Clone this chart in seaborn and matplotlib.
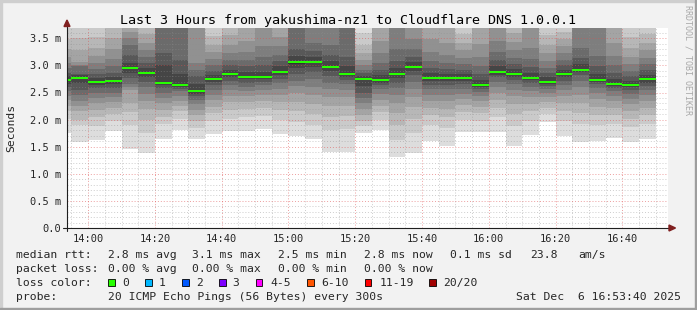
import matplotlib
matplotlib.use("Agg")
import matplotlib.pyplot as plt
from matplotlib.lines import Line2D
from matplotlib.patches import Rectangle, Polygon
import numpy as np
import pandas as pd
import seaborn as sns

# ---------------- data ----------------
bar_start = ["13:50", "13:55", "14:00", "14:05", "14:10", "14:15", "14:20", "14:25", "14:30",
             "14:35", "14:40", "14:45", "14:50", "14:55", "15:00", "15:05", "15:10", "15:15",
             "15:20", "15:25", "15:30", "15:35", "15:40", "15:45", "15:50", "15:55", "16:00",
             "16:05", "16:10", "16:15", "16:20", "16:25", "16:30", "16:35", "16:40", "16:45"]

median_rtt = [2.73, 2.76, 2.70, 2.71, 2.95, 2.86, 2.68, 2.64, 2.53,
              2.75, 2.84, 2.79, 2.79, 2.88, 3.06, 3.06, 2.97, 2.84,
              2.75, 2.73, 2.84, 2.97, 2.77, 2.77, 2.77, 2.64, 2.88,
              2.84, 2.77, 2.70, 2.84, 2.92, 2.73, 2.66, 2.64, 2.75]

# 20 sorted ping round-trip times (ms) per 5-minute step
ping_rtt = [
    [1.75, 2.02, 2.16, 2.26, 2.36, 2.44, 2.52, 2.60, 2.66, 2.71, 2.75, 2.80, 2.86, 2.95, 3.05, 3.16, 3.30, 3.48, 3.85, 4.30],
    [1.59, 1.90, 2.00, 2.15, 2.25, 2.35, 2.45, 2.55, 2.68, 2.74, 2.78, 2.82, 2.85, 2.98, 3.00, 3.07, 3.28, 3.50, 3.90, 4.40],
    [1.62, 1.88, 2.04, 2.18, 2.30, 2.40, 2.50, 2.58, 2.64, 2.68, 2.72, 2.76, 2.84, 2.94, 3.04, 3.18, 3.32, 3.52, 3.80, 4.20],
    [1.79, 1.98, 2.10, 2.22, 2.32, 2.42, 2.50, 2.58, 2.65, 2.69, 2.73, 2.78, 2.86, 2.98, 3.12, 3.30, 3.50, 3.80, 4.10, 4.60],
    [1.46, 1.90, 2.14, 2.30, 2.55, 2.60, 2.66, 2.76, 2.86, 2.93, 2.97, 3.05, 3.20, 3.37, 3.50, 3.62, 3.85, 4.10, 4.50, 5.00],
    [1.39, 1.75, 2.00, 2.20, 2.35, 2.48, 2.60, 2.70, 2.78, 2.84, 2.88, 2.95, 3.05, 3.15, 3.28, 3.42, 3.58, 3.80, 4.20, 4.70],
    [1.65, 1.92, 2.05, 2.18, 2.30, 2.40, 2.50, 2.58, 2.63, 2.67, 2.70, 3.00, 3.22, 3.80, 3.95, 4.10, 4.30, 4.60, 5.00, 5.50],
    [1.80, 2.02, 2.15, 2.26, 2.35, 2.44, 2.52, 2.57, 2.60, 2.63, 2.66, 2.85, 3.10, 3.80, 3.90, 4.05, 4.25, 4.50, 4.90, 5.40],
    [1.65, 1.85, 1.98, 2.08, 2.18, 2.28, 2.36, 2.43, 2.48, 2.52, 2.55, 2.66, 2.80, 2.92, 3.05, 3.80, 4.00, 4.30, 4.70, 5.20],
    [1.73, 1.98, 2.12, 2.24, 2.36, 2.46, 2.55, 2.63, 2.69, 2.73, 2.77, 2.82, 2.90, 3.00, 3.12, 3.25, 3.38, 3.55, 3.85, 4.30],
    [1.79, 2.02, 2.18, 2.32, 2.44, 2.54, 2.63, 2.71, 2.78, 2.82, 2.86, 2.92, 3.00, 3.10, 3.22, 3.38, 3.56, 3.85, 4.20, 4.70],
    [1.79, 2.05, 2.20, 2.33, 2.44, 2.53, 2.61, 2.68, 2.74, 2.77, 2.81, 2.88, 2.98, 3.10, 3.25, 3.45, 3.80, 4.10, 4.50, 5.00],
    [1.82, 2.06, 2.22, 2.35, 2.46, 2.55, 2.63, 2.70, 2.75, 2.78, 2.80, 2.88, 3.00, 3.15, 3.35, 3.80, 4.00, 4.30, 4.70, 5.20],
    [1.73, 2.00, 2.18, 2.33, 2.46, 2.57, 2.67, 2.75, 2.82, 2.86, 2.90, 2.98, 3.08, 3.20, 3.35, 3.52, 3.85, 4.15, 4.50, 5.00],
    [1.70, 1.95, 2.15, 2.33, 2.50, 2.62, 2.72, 2.85, 2.96, 3.03, 3.09, 3.18, 3.30, 3.80, 3.95, 4.15, 4.40, 4.70, 5.10, 5.60],
    [1.65, 1.90, 2.10, 2.28, 2.45, 2.60, 2.74, 2.87, 2.97, 3.04, 3.08, 3.16, 3.26, 3.42, 3.80, 4.00, 4.25, 4.55, 4.95, 5.40],
    [1.40, 1.80, 2.05, 2.25, 2.42, 2.56, 2.68, 2.80, 2.90, 2.95, 2.99, 3.08, 3.20, 3.38, 3.80, 4.00, 4.25, 4.55, 4.95, 5.40],
    [1.40, 1.82, 2.06, 2.26, 2.42, 2.55, 2.65, 2.73, 2.79, 2.82, 2.86, 2.98, 3.15, 3.80, 3.95, 4.15, 4.40, 4.70, 5.10, 5.60],
    [1.76, 1.88, 1.98, 2.08, 2.20, 2.30, 2.40, 2.50, 2.62, 2.73, 2.77, 2.81, 2.86, 2.92, 3.00, 3.10, 3.22, 3.38, 3.60, 3.90],
    [1.80, 2.00, 2.14, 2.26, 2.37, 2.47, 2.56, 2.63, 2.68, 2.71, 2.75, 2.82, 2.92, 3.05, 3.22, 3.45, 3.80, 4.10, 4.50, 5.00],
    [1.31, 1.62, 1.90, 2.12, 2.30, 2.45, 2.58, 2.68, 2.76, 2.82, 2.86, 2.95, 3.08, 3.30, 3.80, 4.00, 4.25, 4.55, 4.95, 5.40],
    [1.39, 1.75, 2.02, 2.24, 2.42, 2.57, 2.70, 2.82, 2.90, 2.95, 2.99, 3.06, 3.16, 3.30, 3.48, 3.80, 4.00, 4.30, 4.70, 5.20],
    [1.60, 1.90, 2.08, 2.22, 2.35, 2.46, 2.56, 2.64, 2.71, 2.75, 2.79, 2.86, 2.96, 3.08, 3.24, 3.48, 3.80, 4.10, 4.50, 5.00],
    [1.52, 1.85, 2.04, 2.20, 2.34, 2.46, 2.56, 2.64, 2.71, 2.75, 2.79, 2.85, 2.94, 3.05, 3.20, 3.42, 3.80, 4.10, 4.50, 5.00],
    [1.77, 2.00, 2.14, 2.27, 2.38, 2.48, 2.57, 2.65, 2.71, 2.75, 2.79, 2.84, 2.92, 3.02, 3.14, 3.28, 3.42, 3.58, 3.85, 4.30],
    [1.77, 1.98, 2.12, 2.24, 2.34, 2.43, 2.51, 2.57, 2.61, 2.63, 2.66, 2.73, 2.84, 2.98, 3.15, 3.40, 3.80, 4.10, 4.50, 5.00],
    [1.77, 2.05, 2.22, 2.37, 2.50, 2.61, 2.70, 2.78, 2.83, 2.86, 2.90, 2.98, 3.10, 3.25, 3.45, 3.80, 4.00, 4.30, 4.70, 5.20],
    [1.52, 1.88, 2.10, 2.28, 2.43, 2.55, 2.65, 2.73, 2.79, 2.82, 2.86, 2.93, 3.02, 3.14, 3.28, 3.44, 3.60, 3.85, 4.20, 4.70],
    [1.71, 1.98, 2.15, 2.29, 2.41, 2.52, 2.61, 2.68, 2.73, 2.76, 2.79, 2.86, 2.97, 3.12, 3.32, 3.80, 4.00, 4.30, 4.70, 5.20],
    [1.95, 2.10, 2.22, 2.32, 2.41, 2.49, 2.56, 2.62, 2.66, 2.69, 2.72, 2.78, 2.86, 2.96, 3.08, 3.22, 3.38, 3.56, 3.85, 4.30],
    [1.70, 1.98, 2.15, 2.30, 2.43, 2.54, 2.64, 2.72, 2.78, 2.82, 2.86, 2.92, 3.00, 3.10, 3.22, 3.35, 3.48, 3.62, 3.90, 4.40],
    [1.59, 1.92, 2.12, 2.30, 2.46, 2.60, 2.72, 2.82, 2.88, 2.91, 2.94, 3.02, 3.14, 3.32, 3.80, 4.00, 4.25, 4.55, 4.95, 5.40],
    [1.60, 1.90, 2.08, 2.24, 2.38, 2.50, 2.59, 2.66, 2.70, 2.72, 2.75, 2.84, 2.98, 3.18, 3.80, 4.00, 4.25, 4.55, 4.95, 5.40],
    [1.66, 1.92, 2.08, 2.22, 2.34, 2.44, 2.52, 2.58, 2.62, 2.65, 2.68, 2.75, 2.86, 3.00, 3.18, 3.42, 3.80, 4.10, 4.50, 5.00],
    [1.59, 1.86, 2.02, 2.16, 2.28, 2.38, 2.47, 2.54, 2.60, 2.63, 2.66, 2.72, 2.80, 2.90, 3.02, 3.16, 3.32, 3.52, 3.85, 4.30],
    [1.64, 1.92, 2.08, 2.22, 2.34, 2.45, 2.54, 2.62, 2.68, 2.73, 2.77, 2.83, 2.92, 3.02, 3.14, 3.28, 3.42, 3.58, 3.88, 4.35],
]

x_tick_labels = ["14:00", "14:20", "14:40", "15:00", "15:20", "15:40", "16:00", "16:20", "16:40"]
y_tick_values = [0.0, 0.5, 1.0, 1.5, 2.0, 2.5, 3.0, 3.5]
y_tick_labels = ["0.0", "0.5 m", "1.0 m", "1.5 m", "2.0 m", "2.5 m", "3.0 m", "3.5 m"]

title = "Last 3 Hours from yakushima-nz1 to Cloudflare DNS 1.0.0.1"
rtt_fields = ["2.8 ms avg", "3.1 ms max", "2.5 ms min", "2.8 ms now", "0.1 ms sd", "23.8", "am/s"]
loss_fields = ["0.00 % avg", "0.00 % max", "0.00 % min", "0.00 % now"]
loss_labels = ["0", "1", "2", "3", "4-5", "6-10", "11-19", "20/20"]
loss_colors = ["#26ff00", "#00b8ff", "#0059ff", "#7e00ff", "#ff00ff", "#ff5500", "#ff0000", "#a10000"]
probe_text = "20 ICMP Echo Pings (56 Bytes) every 300s"
stamp_text = "Sat Dec  6 16:53:40 2025"

# ---------------- figure ----------------
sns.set_style("white")
plt.rcParams["font.family"] = ["DejaVu Sans Mono"]

W, H = 697, 310
fig = plt.figure(figsize=(W / 100, H / 100), dpi=100, facecolor="#f2f2f2")


def fx(x):
    return x / W


def fy(y):
    return 1 - y / H


# frame shading
fig.patches.append(Rectangle((0, fy(2)), 1, 2 / H, transform=fig.transFigure, color="#cfcfcf", zorder=0))
fig.patches.append(Rectangle((0, 0), 2 / W, 1, transform=fig.transFigure, color="#cfcfcf", zorder=0))
fig.patches.append(Rectangle((0, 0), 1, 2 / H, transform=fig.transFigure, color="#9e9e9e", zorder=0))
fig.patches.append(Rectangle((fx(695), 0), 2 / W, 1, transform=fig.transFigure, color="#9e9e9e", zorder=0))

px_left, px_right, px_top, px_bot = 67, 668, 28, 228
ax = fig.add_axes([fx(px_left), fy(px_bot), (px_right - px_left) / W, (px_bot - px_top) / H])
ax.set_facecolor("white")

t_start = 13 * 60 + 53 + 40 / 60
t_end = t_start + 180
y_top = (px_bot - px_top) / 54.2

df = pd.DataFrame(ping_rtt, columns=[f"p{i}" for i in range(1, 21)])
df["t"] = [int(s[:2]) * 60 + int(s[3:]) for s in bar_start]
df["median"] = median_rtt

# smoke: band i spans ping i .. ping 21-i, inner bands darker
for i in range(1, 11):
    g = int(190 / 10 * (10 - i)) + 50
    col = "#%02x%02x%02x" % (g, g, g)
    ax.bar(df["t"], df[f"p{21 - i}"] - df[f"p{i}"], bottom=df[f"p{i}"], width=5, align="edge",
           color=col, linewidth=0, antialiased=False, zorder=1 + i * 0.01)

# grid (drawn over the smoke)
minor_col = (0.56, 0.56, 0.56, 0.45)
major_col = (0.87, 0.31, 0.31, 0.55)
for m in np.arange(835, 1011, 5):
    major = (m % 20 == 0)
    ax.axvline(m, color=major_col if major else minor_col, lw=0.7, ls=(0, (1.0, 2.0)), zorder=3)
for v in np.arange(1, 37):
    val = v / 10
    major = (v % 5 == 0)
    ax.axhline(val, color=major_col if major else minor_col, lw=0.7, ls=(0, (1.0, 2.0)), zorder=3)

# median line (loss 0 colour)
sw = 0.0185
ax.bar(df["t"], 2 * sw, bottom=df["median"] - sw, width=5, align="edge",
       color=loss_colors[0], linewidth=0, antialiased=False, zorder=5)

ax.set_xlim(t_start, t_end)
ax.set_ylim(0, y_top)
for s in ax.spines.values():
    s.set_visible(False)

ax.set_xticks([840 + 20 * k for k in range(len(x_tick_labels))], x_tick_labels)
ax.set_xticks(np.arange(835, 1011, 5), minor=True)
ax.set_yticks(y_tick_values, y_tick_labels)
ax.set_yticks(np.arange(0.1, 3.65, 0.1), minor=True)
ax.tick_params(axis="both", which="both", direction="inout", color="#1f1f1f", width=0.7)
ax.tick_params(axis="x", which="major", length=4, pad=2.0, labelsize=7.5)
ax.tick_params(axis="x", which="minor", length=3)
ax.tick_params(axis="y", which="major", length=4, pad=2.5, labelsize=7.5)
ax.tick_params(axis="y", which="minor", length=3)

# axes lines and arrows
axis_col = "#1f1f1f"
arrow_col = "#802020"
fig.lines.append(Line2D([fx(63), fx(670)], [fy(228), fy(228)], transform=fig.transFigure,
                        color=axis_col, lw=0.8, zorder=10))
fig.lines.append(Line2D([fx(67), fx(67)], [fy(231), fy(25)], transform=fig.transFigure,
                        color=axis_col, lw=0.8, zorder=10))
fig.patches.append(Polygon([(fx(64), fy(26.5)), (fx(70), fy(26.5)), (fx(67), fy(20))],
                           closed=True, transform=fig.transFigure, color=arrow_col, zorder=11))
fig.patches.append(Polygon([(fx(669), fy(225)), (fx(669), fy(231)), (fx(675.5), fy(228))],
                           closed=True, transform=fig.transFigure, color=arrow_col, zorder=11))

# texts
fig.text(fx(348.5), fy(24), title, ha="center", va="baseline", fontsize=9.6, color="black")
fig.text(fx(11), fy(128), "Seconds", rotation=90, ha="center", va="center", fontsize=8.2)
fig.text(fx(688), fy(5), "RRDTOOL / TOBI OETIKER", rotation=270, ha="center", va="top",
         fontsize=6.0, color="#a8a8a8")

fs = 8.2
fig.text(fx(16), fy(258), "median rtt:", fontsize=fs, va="baseline")
for xpos, txt in zip([108, 193, 279, 365, 451, 531, 579], rtt_fields):
    fig.text(fx(xpos - 0.5), fy(258), txt, fontsize=fs, va="baseline")

fig.text(fx(16), fy(272), "packet loss:", fontsize=fs, va="baseline")
for xpos, txt in zip([108, 193, 279, 365], loss_fields):
    fig.text(fx(xpos - 0.5), fy(272), txt, fontsize=fs, va="baseline")

fig.text(fx(16), fy(286), "loss color:", fontsize=fs, va="baseline")
box_x = [108.3, 145, 182.3, 219, 255.7, 307.3, 365, 429.3]
lab_x = [122.7, 159.3, 196.7, 233.3, 271, 321.7, 380, 444.3]
for bx, lx, lab, col in zip(box_x, lab_x, loss_labels, loss_colors):
    fig.patches.append(Rectangle((fx(bx), fy(286)), 6.5 / W, 7 / H, transform=fig.transFigure,
                                 facecolor=col, edgecolor="black", lw=0.6, zorder=10))
    fig.text(fx(lx - 0.7), fy(286), lab, fontsize=fs, va="baseline")

fig.text(fx(16), fy(300), "probe:", fontsize=fs, va="baseline")
fig.text(fx(107.5), fy(300), probe_text, fontsize=fs, va="baseline")
fig.text(fx(681), fy(300), stamp_text, fontsize=fs, va="baseline", ha="right")

fig.savefig("out.png", dpi=100, facecolor=fig.get_facecolor())
